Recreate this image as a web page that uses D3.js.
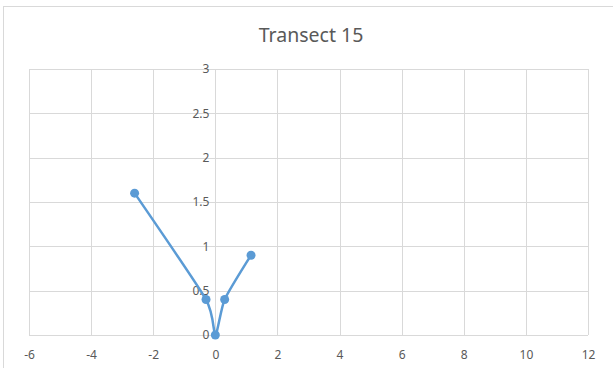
<!DOCTYPE html>
<meta charset="utf-8">
<style>
  body { margin: 0; background: #fff; }
  .grid line { stroke: #d9d9d9; stroke-width: 1; }
  .tick text { fill: #595959; font-size: 12px; font-family: "Noto Sans", "Liberation Sans", sans-serif; }
</style>
<body></body>
<script src="https://d3js.org/d3.v7.min.js"></script>
<script>
// data
var xs = [-2.6, -0.3, 0, 0.3, 1.15];
var ys = [1.6, 0.4, 0, 0.4, 0.9];
var xTicks = [-6, -4, -2, 0, 2, 4, 6, 8, 10, 12];
var yTicks = [0, 0.5, 1, 1.5, 2, 2.5, 3];
var title = "Transect 15";

var W = 613, H = 368;
var plotL = 29, plotR = 588, plotT = 69, plotB = 335;

var svg = d3.select("body").append("svg")
  .attr("width", W)
  .attr("height", H);

// chart border
svg.append("rect")
  .attr("x", 3.5).attr("y", 6.5)
  .attr("width", W + 10).attr("height", H + 10)
  .attr("fill", "#fff")
  .attr("stroke", "#d9d9d9");

svg.append("text")
  .attr("x", 311).attr("y", 42)
  .attr("text-anchor", "middle")
  .attr("fill", "#595959")
  .style("font-family", "'Noto Sans', 'Liberation Sans', sans-serif")
  .style("font-size", "19.5px")
  .text(title);

var x = d3.scaleLinear().domain([-6, 12]).range([plotL, plotR]);
var y = d3.scaleLinear().domain([0, 3]).range([plotB, plotT]);

// vertical gridlines
svg.append("g").attr("class", "grid")
  .selectAll("line").data(xTicks).enter().append("line")
  .attr("x1", function(d) { return Math.round(x(d)) + 0.5; })
  .attr("x2", function(d) { return Math.round(x(d)) + 0.5; })
  .attr("y1", plotT).attr("y2", plotB);

// horizontal gridlines
svg.append("g").attr("class", "grid")
  .selectAll("line").data(yTicks).enter().append("line")
  .attr("y1", function(d) { return Math.round(y(d)) + 0.5; })
  .attr("y2", function(d) { return Math.round(y(d)) + 0.5; })
  .attr("x1", plotL).attr("x2", plotR);

var fmt = function(d) { return String(d); }; // plain hyphen minus like Excel

// x axis labels below plot
var xaxis = d3.axisBottom(x).tickValues(xTicks).tickSize(0).tickPadding(15).tickFormat(fmt);
svg.append("g")
  .attr("transform", "translate(0," + plotB + ")")
  .call(xaxis)
  .call(function(g) { g.select(".domain").remove(); });

// y axis labels sit on the x = 0 line
var yaxis = d3.axisLeft(y).tickValues(yTicks).tickSize(0).tickPadding(6).tickFormat(fmt);
svg.append("g")
  .attr("transform", "translate(" + x(0) + ",0)")
  .call(yaxis)
  .call(function(g) { g.select(".domain").remove(); });

var pts = xs.map(function(d, i) { return [d, ys[i]]; });

var line = d3.line()
  .x(function(d) { return x(d[0]); })
  .y(function(d) { return y(d[1]); })
  .curve(d3.curveCardinal.tension(0.4));

svg.append("path")
  .datum(pts)
  .attr("d", line)
  .attr("fill", "none")
  .attr("stroke", "#5b9bd5")
  .attr("stroke-width", 2.5)
  .attr("stroke-linejoin", "round");

svg.selectAll("circle.pt").data(pts).enter().append("circle")
  .attr("class", "pt")
  .attr("cx", function(d) { return x(d[0]); })
  .attr("cy", function(d) { return y(d[1]); })
  .attr("r", 4.5)
  .attr("fill", "#5b9bd5");
</script>
